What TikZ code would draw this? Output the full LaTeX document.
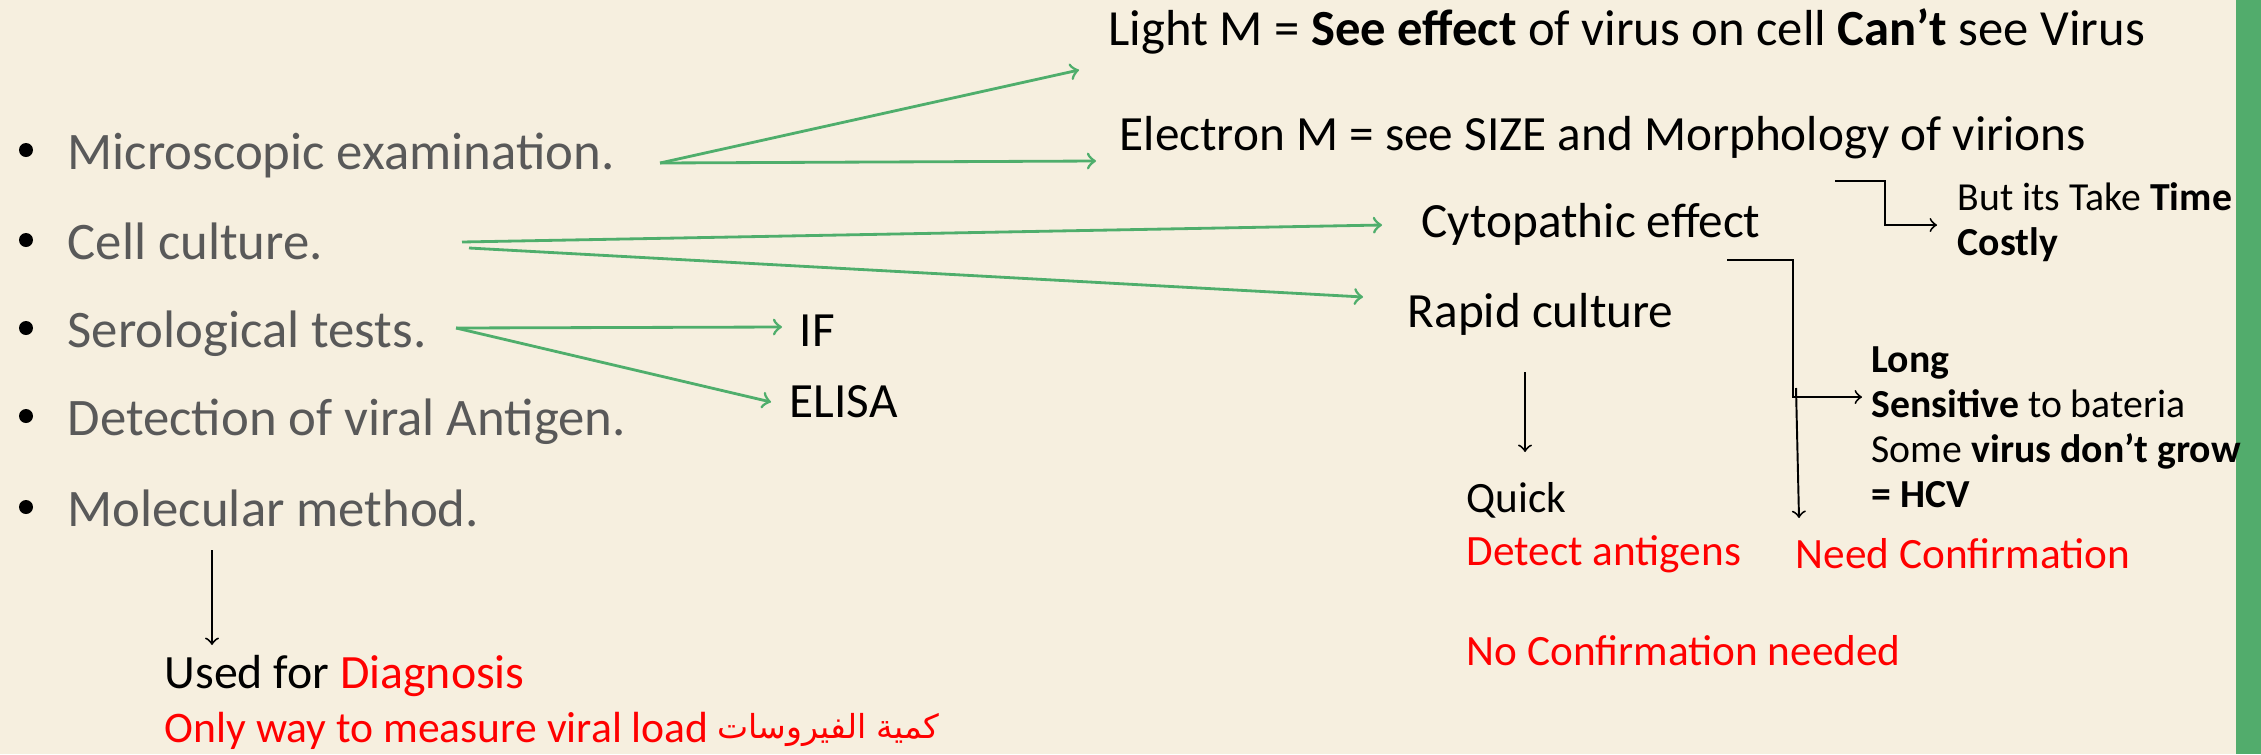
\documentclass[tikz,border=0pt]{standalone}
\usepackage{fontspec}
\setmainfont{Carlito}
\newfontfamily\arabicfont[Script=Arabic]{DejaVu Sans}
\TeXXeTstate=1
\usetikzlibrary{positioning}
\definecolor{slidebg}{HTML}{F6EFDF}
\definecolor{arrowgreen}{HTML}{4FAE6C}
\definecolor{bargreen}{HTML}{52AC6C}
\definecolor{bulletgrey}{HTML}{595959}
\definecolor{alertred}{HTML}{FF0000}

\tikzset{
	every node/.style={inner sep=0pt, anchor=base west},
	bullettext/.style={font=\fontsize{15}{18}\selectfont, text=bulletgrey},
	maintext/.style={font=\fontsize{14}{17}\selectfont},
	notetext/.style={font=\fontsize{11.3}{13}\selectfont},
	redtext/.style={font=\fontsize{12.3}{15}\selectfont, text=alertred},
	greenarrow/.style={->, draw=arrowgreen, line width=0.8pt},
	blackarrow/.style={->, draw=black, line width=0.55pt},
}

\begin{document}
\begin{tikzpicture}[x=0.01cm, y=-0.01cm]
	\fill[slidebg] (0,0) rectangle (2261,754);
	\fill[bargreen] (2236,0) rectangle (2261,754);
	\useasboundingbox (0,0) rectangle (2261,754);
	% bullet list
	\foreach \nm/\txt/\y in {micro/Microscopic examination./169, cellc/Cell culture./259, sero/Serological tests./347, detect/Detection of viral Antigen./435, molec/Molecular method./526}{
		\fill (26,\y-19) circle (7);
		\node[bullettext] (\nm) at (67,\y) {\txt};
	}
	% notes
	\node[maintext, font=\fontsize{14.4}{17}\selectfont] (light) at (1108,45) {Light M = \textbf{See effect} of virus on cell \textbf{Can’t} see Virus};
	\node[maintext] (elec) at (1119,150) {Electron M = see SIZE and Morphology of virions};
	\node[maintext] (cyto) at (1421,237) {Cytopathic effect};
	\node[maintext] (rapid) at (1407,327) {Rapid culture};
	\node[maintext] (iff) at (799,346) {IF};
	\node[maintext] (elisa) at (789,417) {ELISA};
	\node[notetext] (butits) at (1957,210) {But its Take \textbf{Time}};
	\node[notetext] (costly) at (1957,255) {\textbf{Costly}};
	\node[notetext] (long) at (1871,372) {\textbf{Long}};
	\node[notetext] (sensitive) at (1871,417) {\textbf{Sensitive} to bateria};
	\node[notetext] (somevirus) at (1871,462) {Some \textbf{virus don’t grow}};
	\node[notetext] (hcv) at (1871,507) {\textbf{= HCV}};
	\node[redtext, text=black] (quick) at (1466,512) {Quick};
	\node[redtext] (detectag) at (1466,565) {Detect antigens};
	\node[redtext] (needconf) at (1795,568) {Need Confirmation};
	\node[redtext] (noconf) at (1466,665) {No Confirmation needed};
	\node[font=\fontsize{13.6}{16}\selectfont] (usedfor) at (164,688) {Used for \textcolor{alertred}{Diagnosis}};
	\node[font=\fontsize{12.4}{15}\selectfont, text=alertred] (onlyway) at (164,742) {Only way to measure viral load};
	\node[font=\fontsize{9.4}{11}\arabicfont, text=alertred, anchor=base east] (arabic) at (940,738) {\beginR كمية الفيروسات\endR};
	% green arrows
	\coordinate (microfork) at (660,163);
	\coordinate (cellfork) at (462,242);
	\coordinate (serofork) at (456,328);
	\draw[greenarrow] (microfork) -- ([shift={(-29,25)}]light.base west);
	\draw[greenarrow] (microfork) -- ([shift={(-23,11)}]elec.base west);
	\draw[greenarrow] (cellfork) -- ([shift={(-39,-12)}]cyto.base west);
	\draw[greenarrow] ([shift={(7,6)}]cellfork) -- ([shift={(-44,-30)}]rapid.base west);
	\draw[greenarrow] (serofork) -- ([shift={(-17,-19)}]iff.base west);
	\draw[greenarrow] (serofork) -- ([shift={(-18,-15)}]elisa.base west);
	% black arrows
	\draw[blackarrow] ([shift={(716,31)}]elec.base west) -- ++(50,0) |- ([shift={(-20,15)}]butits.base west);
	\draw[blackarrow] ([shift={(306,23)}]cyto.base west) -- ++(66,0) |- ([shift={(-9,-20)}]sensitive.base west);
	\draw[blackarrow] ([shift={(1,-29)}]needconf.base west) ++(0,-151) -- ([shift={(4,-50)}]needconf.base west);
	\draw[blackarrow] ([shift={(118,45)}]rapid.base west) -- ([shift={(59,-60)}]quick.base west);
	\draw[blackarrow] ([shift={(145,24)}]molec.base west) -- ([shift={(48,-43)}]usedfor.base west);
\end{tikzpicture}
\end{document}
